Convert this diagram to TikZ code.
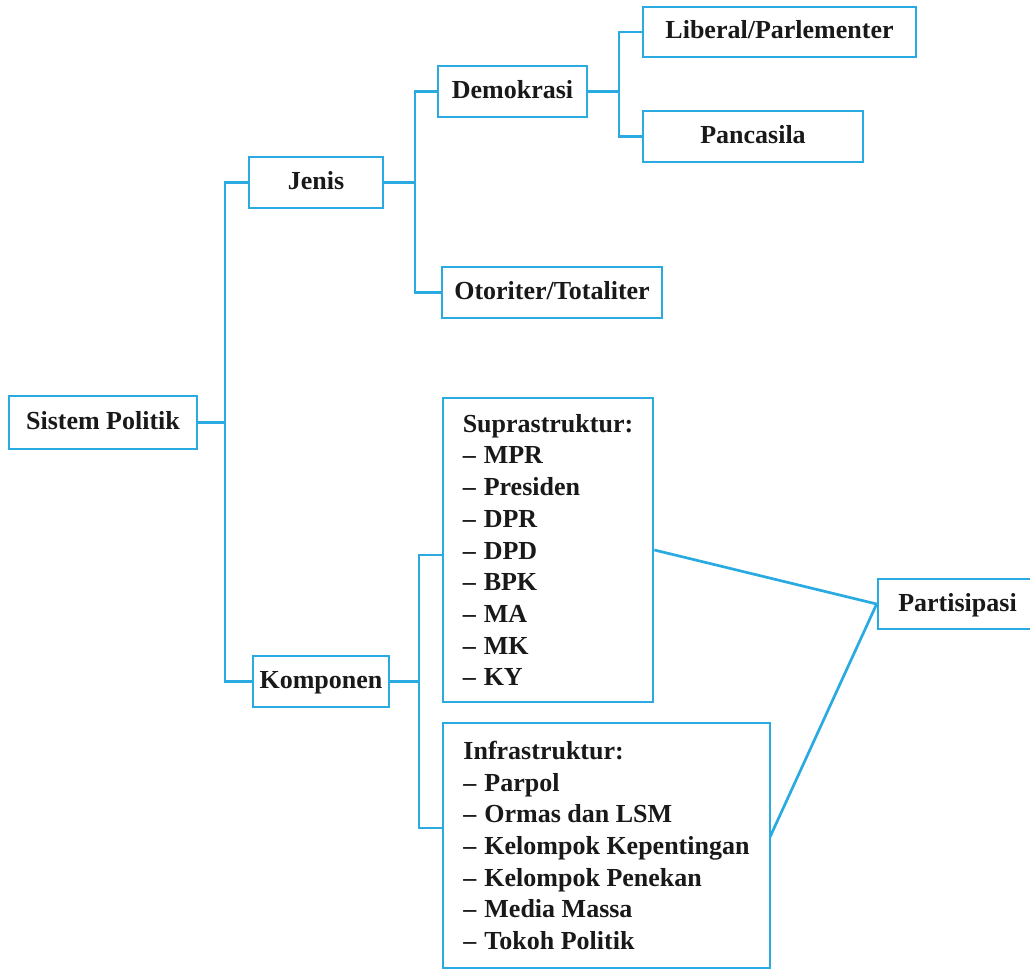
\documentclass[tikz,border=0pt]{standalone}
\usepackage{fontspec}
\setmainfont{Liberation Serif}
\definecolor{lineblue}{RGB}{41,171,226}
\newcommand\dsh{–\hspace{8pt}}
\begin{document}
\begin{tikzpicture}[x=1pt,y=-1pt,
  every node/.style={font=\bfseries\fontsize{26}{31.7}\selectfont, text=black!90},
  box/.style={draw=lineblue, line width=2.7pt, inner sep=0pt},
  onebox/.style={box, text height=18pt, text depth=4pt},
  listbox/.style={box, align=left},
  conn/.style={draw=lineblue, line width=2.7pt}]
\useasboundingbox (0,0) rectangle (1030,971);
% boxes
\node[onebox, minimum width=188pt, minimum height=53pt] (sp) at (103,422.5) {Sistem Politik};
\node[onebox, minimum width=134pt, minimum height=51pt] (jenis) at (316,182.5) {Jenis};
\node[onebox, minimum width=149pt, minimum height=51pt] (demo) at (512.5,91.5) {Demokrasi};
\node[onebox, minimum width=220pt, minimum height=51pt] (oto) at (552,292.5) {Otoriter/Totaliter};
\node[onebox, minimum width=273pt, minimum height=50pt] (lib) at (779.5,32) {Liberal/Parlementer};
\node[onebox, minimum width=220pt, minimum height=51pt] (pan) at (753,136.5) {Pancasila};
\node[onebox, minimum width=136pt, minimum height=51pt] (komp) at (321,681.5) {Komponen};
\node[listbox, minimum width=210pt, minimum height=304pt] (supra) at (548,550)
  {Suprastruktur:\\\dsh MPR\\\dsh Presiden\\\dsh DPR\\\dsh DPD\\\dsh BPK\\\dsh MA\\\dsh MK\\\dsh KY};
\node[listbox, minimum width=327pt, minimum height=245pt] (infra) at (606.5,845.5)
  {Infrastruktur:\\\dsh Parpol\\\dsh Ormas dan LSM\\\dsh Kelompok Kepentingan\\\dsh Kelompok Penekan\\\dsh Media Massa\\\dsh Tokoh Politik};
\node[onebox, minimum width=159pt, minimum height=50pt] (part) at (957.5,604) {Partisipasi};
% junctions
\coordinate (j0) at (225,422.5);
\coordinate (j1) at (415,182.5);
\coordinate (j2) at (619,91.5);
\coordinate (ja) at (419,555);
\coordinate (jb) at (419,828);
\coordinate (ic) at (770,837);
% connectors
\draw[conn] (sp.east) -- (j0);
\draw[conn] (jenis.west) -| (j0) |- (komp.west);
\draw[conn] (jenis.east) -- (j1);
\draw[conn] (demo.west) -| (j1) |- (oto.west);
\draw[conn] (demo.east) -- (j2);
\draw[conn] (lib.west) -| (j2) |- (pan.west);
\draw[conn] (komp.east) -- (komp.east -| ja);
\draw[conn] (supra.west |- ja) -- (ja) -- (jb) -- (infra.west |- jb);
\draw[conn] (supra.east) -- (part.west);
\draw[conn] (ic) -- (part.west);
\end{tikzpicture}
\end{document}
